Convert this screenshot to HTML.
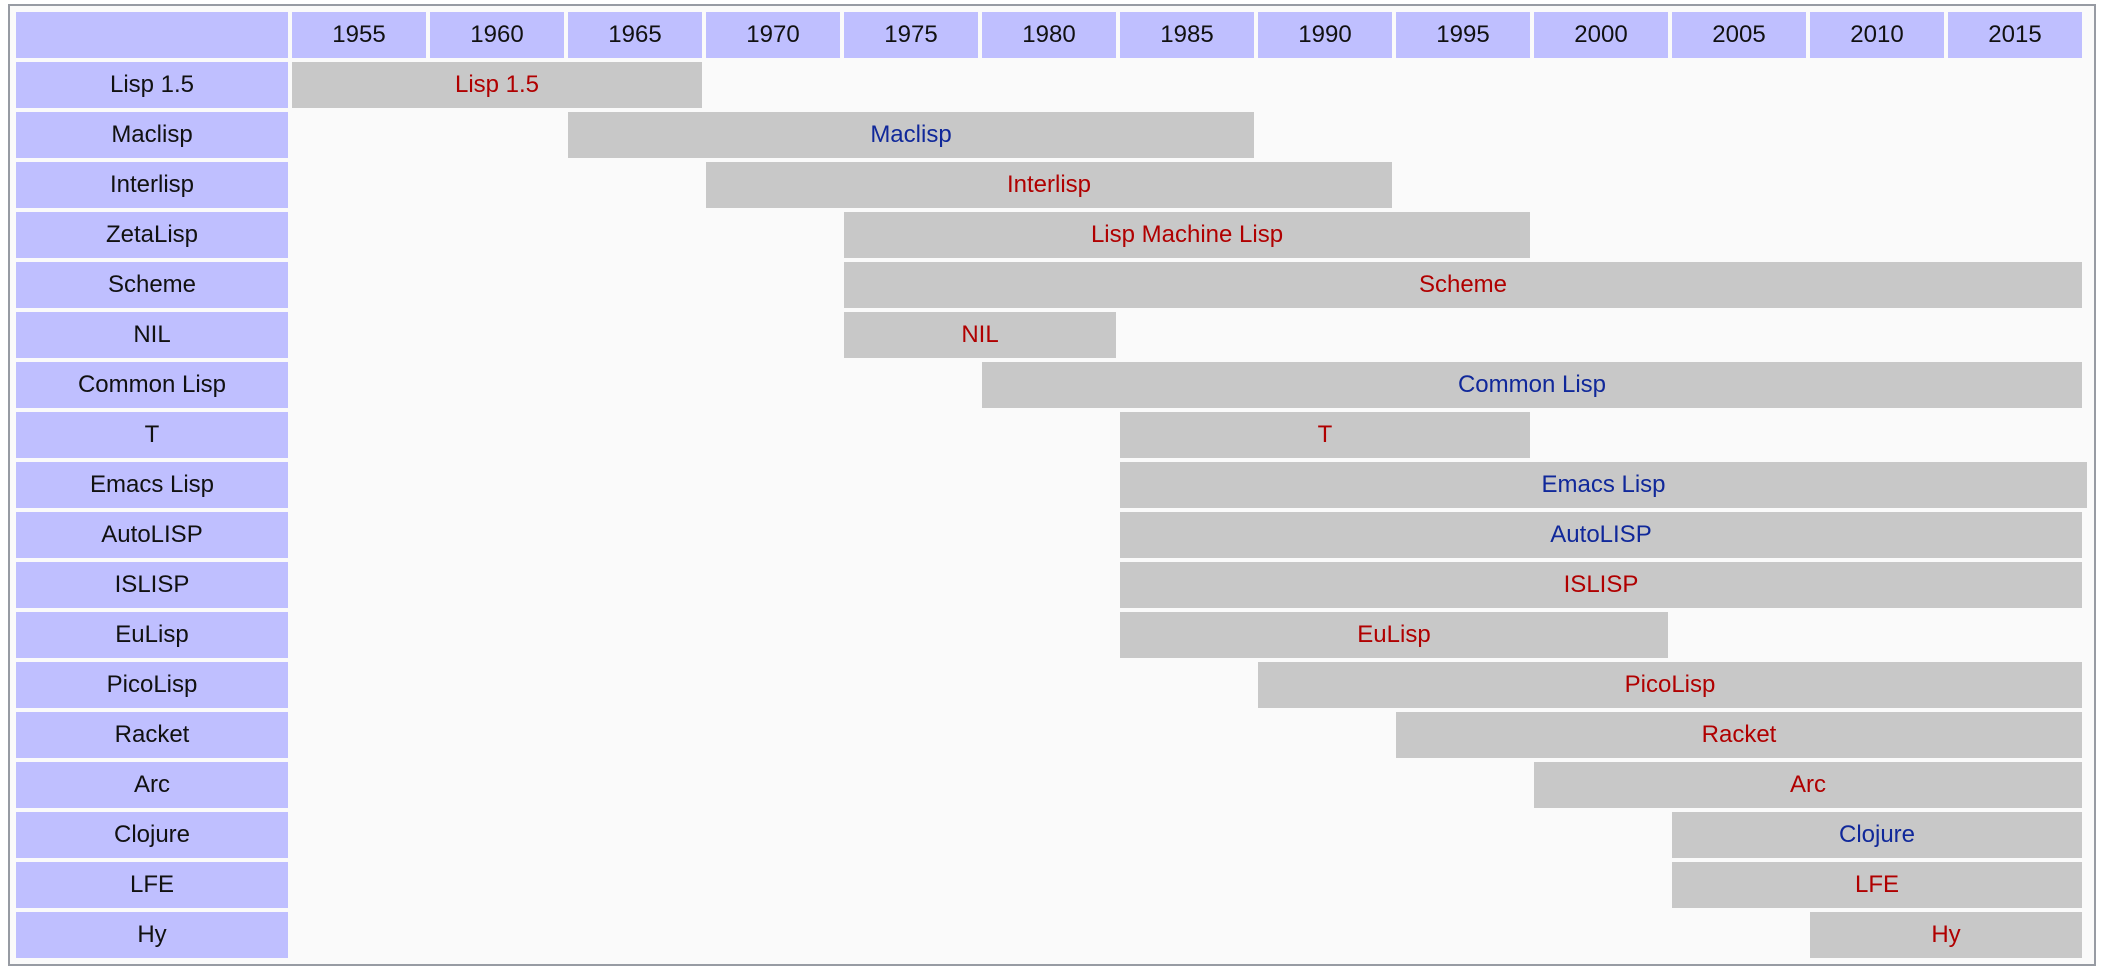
<!DOCTYPE html>
<html><head><meta charset="utf-8"><style>
body{margin:0;background:#fff;width:2102px;height:978px;position:relative;overflow:hidden;font-family:"Liberation Sans","DejaVu Sans",sans-serif;}
#box{position:absolute;left:8px;top:4px;width:2084px;height:958px;border:2px solid #979ba3;background:#fafafa;}
.c{position:absolute;height:46px;line-height:46px;text-align:center;font-size:24px;color:#111;}
.h{background:#bfbfff;}
.b{background:#c8c8c8;}
.r{color:#b00000;}
.u{color:#10289a;}
</style></head><body>
<div id="box"></div>
<div id="t"></div>
<script>
var years=[1955,1960,1965,1970,1975,1980,1985,1990,1995,2000,2005,2010,2015];
var rows=[["Lisp 1.5",0,2,"r"],["Maclisp",2,6,"u"],["Interlisp",3,7,"r"],["ZetaLisp",4,8,"r","Lisp Machine Lisp"],["Scheme",4,12,"r"],["NIL",4,5,"r"],["Common Lisp",5,12,"u"],["T",6,8,"r"],["Emacs Lisp",6,12,"u",null,5],["AutoLISP",6,12,"u"],["ISLISP",6,12,"r"],["EuLisp",6,9,"r"],["PicoLisp",7,12,"r"],["Racket",8,12,"r"],["Arc",9,12,"r"],["Clojure",10,12,"u"],["LFE",10,12,"r"],["Hy",11,12,"r"]];
var h='';
function cx(i){return 292+i*138;}
h+='<div class="c h" style="left:16px;top:12px;width:272px"></div>';
years.forEach(function(y,i){h+='<div class="c h" style="left:'+cx(i)+'px;top:12px;width:134px">'+y+'</div>';});
rows.forEach(function(r,k){var top=62+k*50;
h+='<div class="c h" style="left:16px;top:'+top+'px;width:272px">'+r[0]+'</div>';
var l=cx(r[1]),w=cx(r[2])+134-l+(r[5]||0);
h+='<div class="c b '+r[3]+'" style="left:'+l+'px;top:'+top+'px;width:'+w+'px">'+(r[4]||r[0])+'</div>';});
document.getElementById('t').innerHTML=h;
</script>
</body></html>
